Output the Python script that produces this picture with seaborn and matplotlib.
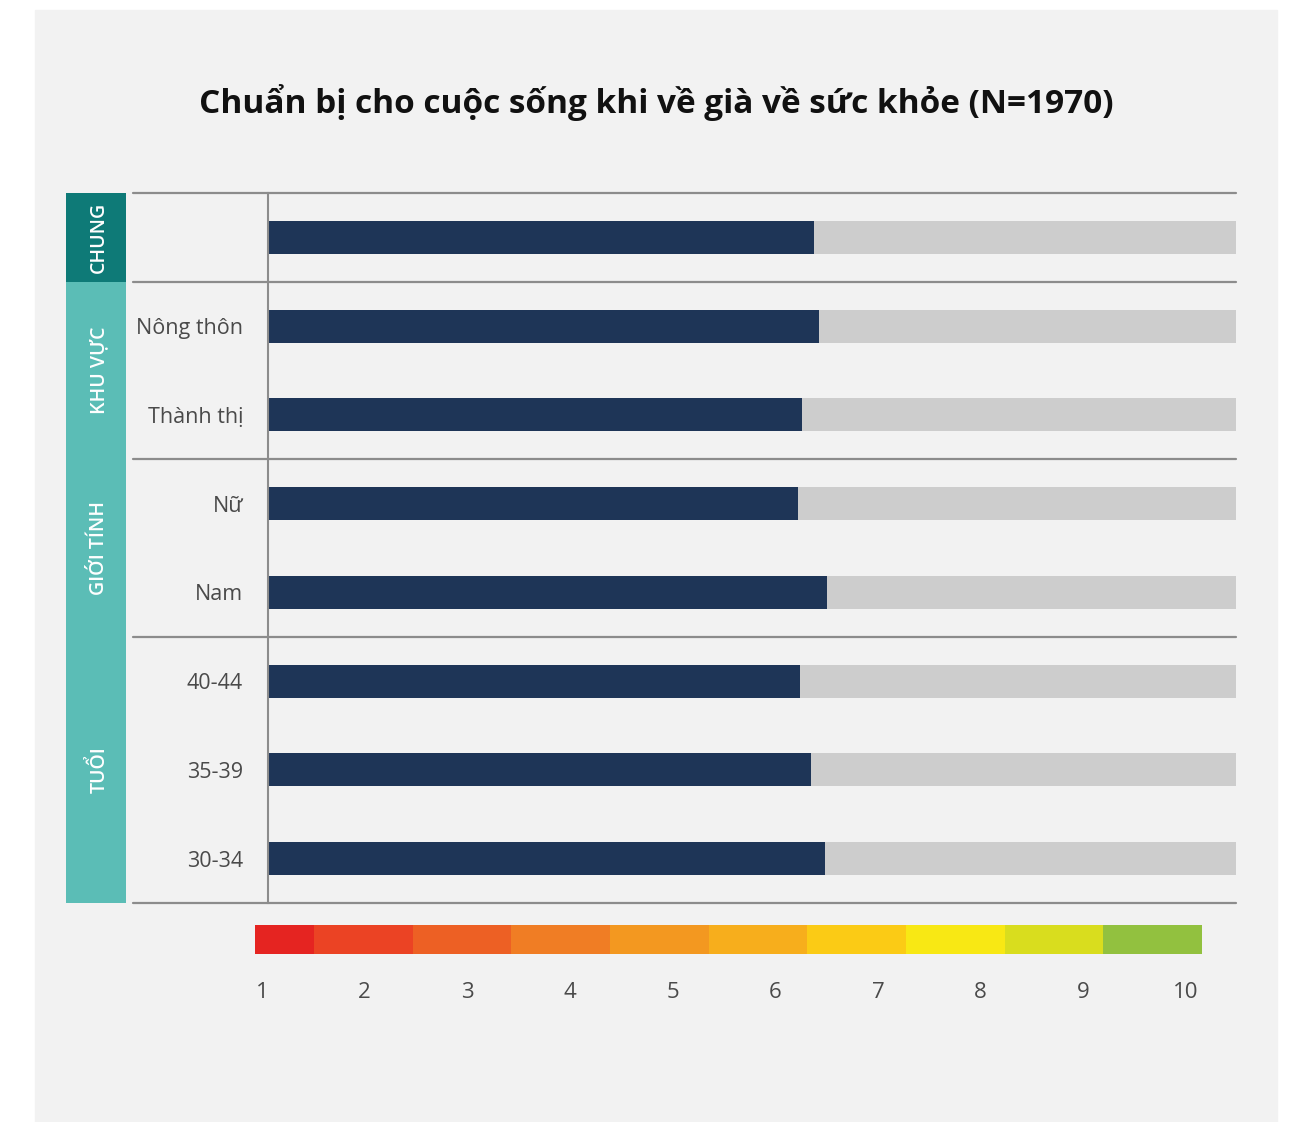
import matplotlib.pyplot as plt
import seaborn as sns
import pandas as pd
import numpy as np
from matplotlib.patches import Rectangle

# Dữ liệu
categories = ['Chung', 'Nông thôn', 'Thành thị', 'Nữ', 'Nam', '40-44', '35-39', '30-34']
tick_labels = ['', 'Nông thôn', 'Thành thị', 'Nữ', 'Nam', '40-44', '35-39', '30-34']
scores = [6.38, 6.43, 6.27, 6.23, 6.51, 6.25, 6.35, 6.49]
groups = ['CHUNG', 'KHU VỰC', 'GIỚI TÍNH', 'TUỔI']
group_sizes = [1, 2, 2, 3]
group_colors = ['#0e7a77', '#5bbdb6', '#5bbdb6', '#5bbdb6']
scale_ticks = list(range(1, 11))
scale_colors = ['#e52421', '#eb4324', '#ed6024', '#f07d24', '#f39820',
                '#f7ae1c', '#fbcb15', '#f8e814', '#d9dd1e', '#92c13f']
SCALE_MAX = 10.5
title = 'Chuẩn bị cho cuộc sống khi về già về sức khỏe (N=1970)'

NAVY = '#1e3557'
GRAY = '#cdcdcd'
BG = '#f2f2f2'
LINE = '#8c8c8c'
TEXT = '#4a4a4a'

sns.set_style('white')
plt.rcParams['font.family'] = ['Open Sans', 'DejaVu Sans']

W, H = 1299, 1122
fig = plt.figure(figsize=(W / 100, H / 100), dpi=100, facecolor='white')


def fr(x0, y0, x1, y1):
    return [x0 / W, 1 - y1 / H, (x1 - x0) / W, (y1 - y0) / H]


# nền xám nhạt
fig.patches.append(Rectangle((35 / W, 0), (1277 - 35) / W, 1 - 10 / H,
                             transform=fig.transFigure, color=BG, zorder=-10))

fig.text(656 / W, 1 - 103 / H, title, ha='center', va='center',
         fontsize=24, fontweight='bold', color='#111111')

df = pd.DataFrame({'category': categories, 'score': scores,
                   'full': [SCALE_MAX] * len(categories)})

# trục chính cho thanh
ax = fig.add_axes(fr(268, 193, 1236, 903))
ax.set_facecolor('none')
sns.barplot(data=df, x='full', y='category', color=GRAY, saturation=1,
            width=0.37, linewidth=0, ax=ax)
sns.barplot(data=df, x='score', y='category', color=NAVY, saturation=1,
            width=0.37, linewidth=0, ax=ax)
unit = (1186 - 262) / 9
ax.set_xlim(1 + (268 - 262) / unit, SCALE_MAX)
ax.set_ylim(len(categories) - 0.5, -0.5)
ax.set_xlabel('')
ax.set_ylabel('')
ax.set_xticks([])
ax.set_yticks(range(len(categories)))
ax.set_yticklabels(tick_labels)
ax.tick_params(axis='y', length=0, pad=18, labelsize=15.5, labelcolor=TEXT)
for s in ['top', 'right', 'bottom']:
    ax.spines[s].set_visible(False)
ax.spines['left'].set_color(LINE)
ax.spines['left'].set_linewidth(1.5)

# đường phân cách nhóm
bounds = np.concatenate([[0], np.cumsum(group_sizes)]) - 0.5
x_left = (133 - 268) / (1236 - 268)
for b in bounds:
    ax.plot([x_left, 1], [b, b], color=LINE, lw=1.6,
            transform=ax.get_yaxis_transform(), clip_on=False, zorder=3)

# dải nhãn nhóm
bax = fig.add_axes(fr(66, 193, 126, 903))
bax.set_xlim(0, 1)
bax.set_ylim(len(categories) - 0.5, -0.5)
bax.axis('off')
for name, lo, hi, col in zip(groups, bounds[:-1], bounds[1:], group_colors):
    bax.axhspan(lo, hi, color=col, lw=0)
    bax.text(0.55, (lo + hi) / 2, name, rotation=90, ha='center', va='center',
             color='white', fontsize=14, fontweight='semibold')

# thang màu
cax = fig.add_axes(fr(255, 925, 1202, 954))
lo_c = 1 - (262 - 255) / unit
hi_c = 10 + (1202 - 1186) / unit
step = (hi_c - lo_c) / 9.6
edges = lo_c + step * np.concatenate([[0], 0.6 + np.arange(10)])
cax.barh(0, np.diff(edges), left=edges[:-1], color=scale_colors,
         height=1, lw=0)
cax.set_xlim(lo_c, hi_c)
cax.set_ylim(-0.5, 0.5)
cax.set_yticks([])
cax.set_xticks(scale_ticks)
cax.tick_params(axis='x', length=0, pad=20, labelsize=16, labelcolor=TEXT)
for s in cax.spines.values():
    s.set_visible(False)
cax.set_facecolor('none')

fig.savefig('out.png', dpi=100, facecolor='white')
